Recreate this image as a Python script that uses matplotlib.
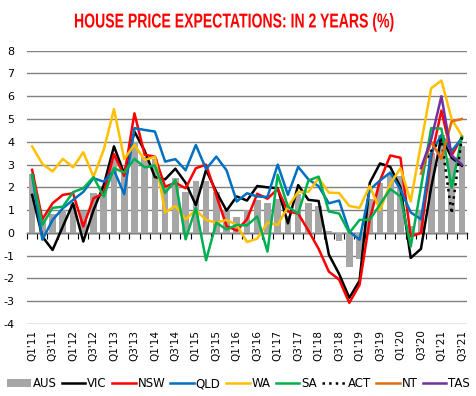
import numpy as np
import matplotlib.pyplot as plt
from matplotlib.patheffects import AbstractPathEffect
from matplotlib.transforms import Affine2D

plt.rcParams['font.family'] = ['DejaVu Sans']
plt.rcParams['axes.unicode_minus'] = False

# quarterly survey, Q1'11 .. Q3'21
quarters = [f"Q{q}'{y}" for y in range(11, 22) for q in range(1, 5)][:43]

aus = [2.6, 0.6, 0.85, 1.0, 1.25, 0.95, 1.75, 2.05, 3.3, 2.7, 4.0, 3.35, 3.25, 2.0,
       2.4, 1.8, 2.3, 2.28, 1.8, 1.0, 0.72, 1.0, 1.45, 1.33, 1.5, 0.75, 1.7, 1.3,
       1.2, 0.1, -0.37, -1.5, -1.15, 1.5, 2.2, 2.6, 2.5, 0.3, 1.0, 3.5, 4.3, 3.3, 3.82]
vic = [1.67, -0.16, -0.75, 0.28, 1.3, -0.38, 1.0, 2.1, 3.8, 2.6, 4.45, 3.6, 2.45, 2.35,
       2.82, 2.2, 1.22, 2.77, 1.8, 0.98, 1.6, 1.42, 2.06, 2.0, 1.96, 0.42, 2.1, 1.45,
       1.4, -0.95, -1.8, -2.85, -2.1, 2.2, 3.05, 2.9, 2.0, -1.1, -0.7, 2.0, 4.2, 3.3, 2.95]
nsw = [2.77, 0.6, 1.3, 1.67, 1.74, 0.28, 1.52, 1.74, 3.46, 2.5, 5.25, 3.43, 3.35, 2.03,
       2.2, 1.96, 2.84, 3.0, 1.65, 0.3, 0.1, 0.6, 1.72, 1.5, 1.93, 0.94, 0.85, 0.1,
       -0.7, -1.7, -2.05, -3.07, -2.28, 0.6, 2.3, 3.4, 3.3, -0.16, 0.0, 3.3, 5.37, 3.4, 4.2]
qld = [2.55, -0.3, 0.57, 1.08, 1.45, 1.8, 2.4, 2.25, 2.75, 1.7, 4.6, 4.52, 4.45, 3.13,
       3.24, 2.75, 3.86, 2.8, 3.35, 2.75, 1.38, 1.74, 1.6, 1.58, 3.0, 1.67, 2.9, 2.35,
       2.05, 1.3, 1.42, 0.06, -0.3, 1.9, 2.3, 2.65, 1.9, 0.9, 0.6, 3.5, 4.3, 3.6, 4.15]
wa = [3.8, 3.03, 2.7, 3.25, 2.88, 3.54, 2.47, 3.65, 5.43, 3.24, 3.87, 3.2, 3.35, 0.9,
      1.18, 0.6, 1.0, 0.57, 0.45, 0.57, 0.35, -0.4, -0.25, 0.45, 0.35, 1.15, 1.8, 1.8,
      2.4, 1.77, 1.75, 1.18, 1.1, 2.06, 1.0, 2.15, 2.84, 1.38, 3.9, 6.35, 6.69, 5.0, 4.26]
sa = [2.55, 0.35, 1.1, 1.15, 1.79, 1.96, 2.45, 1.6, 2.84, 2.65, 3.25, 2.88, 2.96, 1.75,
      2.32, -0.28, 1.1, -1.2, 0.45, 0.15, 0.35, 0.33, 0.72, -0.82, 2.55, 1.15, 0.85, 2.3,
      2.47, 0.94, 0.85, 0.0, 0.57, 0.58, 1.25, 1.93, 1.6, -0.6, 2.0, 4.6, 4.58, 1.98, 4.22]
nan = np.nan
act = [nan] * 38 + [2.8, 3.6, 4.1, 0.85, 4.2]
nt = [nan] * 38 + [2.6, 4.0, 3.25, 4.9, 5.0]
tas = [nan] * 38 + [2.84, 4.1, 6.0, 3.4, 3.0]

states = [
    ('VIC', vic, 'black', '-'),
    ('NSW', nsw, '#FF0000', '-'),
    ('QLD', qld, '#0070C0', '-'),
    ('WA', wa, '#FFC000', '-'),
    ('SA', sa, '#00B050', '-'),
    ('ACT', act, 'black', ':'),
    ('NT', nt, '#E46C0A', '-'),
    ('TAS', tas, '#7030A0', '-'),
]


class Squeeze(AbstractPathEffect):
    """draw text narrower around x0 (px) - no condensed font installed"""
    def __init__(self, sx, x0):
        super().__init__()
        self.sx = sx
        self.x0 = x0

    def draw_path(self, renderer, gc, tpath, affine, rgbFace=None):
        squeeze = Affine2D().translate(-self.x0, 0).scale(self.sx, 1).translate(self.x0, 0)
        renderer.draw_path(gc, tpath, affine + squeeze, rgbFace)


W, H = 477, 396
fig = plt.figure(figsize=(W / 100, H / 100), dpi=100)
ax = fig.add_axes([27 / W, 1 - 324 / H, 440 / W, (324 - 50.7) / H])

x = np.arange(len(quarters))
bars = ax.bar(x, aus, width=0.65, color='#A6A6A6', label='AUS', zorder=2)
handles = [bars]
for name, vals, col, ls in states:
    ln, = ax.plot(x, vals, color=col, lw=1.8, ls=ls, label=name, zorder=3)
    handles.append(ln)

ax.set_xlim(-0.5, len(quarters) - 0.5)
ax.set_ylim(-4, 8)
ax.set_yticks(range(-4, 9))
ax.yaxis.grid(True, color='#808080', lw=1)
ax.set_axisbelow(True)
for s in ax.spines.values():
    s.set_visible(False)
ax.tick_params(axis='y', length=0, pad=9, labelsize=8)
ax.set_xticks(x[::2])
ax.set_xticklabels(quarters[::2], rotation=90, fontsize=7.5)
ax.tick_params(axis='x', length=0, pad=4)

# zero line with category tick marks
zero = ax.secondary_xaxis(0, transform=ax.transData)
zero.set_xticks(np.arange(-0.5, len(quarters), 1))
zero.set_xticklabels([])
zero.tick_params(direction='out', length=4, width=0.8, color='black')
zero.spines['bottom'].set_color('black')
zero.spines['bottom'].set_linewidth(1)

fig.legend(handles=handles, loc='lower center', bbox_to_anchor=(0.5, -0.012), ncol=9,
           frameon=False, fontsize=8.5, handlelength=2.0, handletextpad=0.15,
           columnspacing=0.45)

# title: squeezed to the width of the original condensed font
title_w, title_cx = 321, 234.5
title = fig.text(title_cx / W, 1 - 22 / H, 'HOUSE PRICE EXPECTATIONS: IN 2 YEARS (%)',
                 color='#FF0000', fontsize=14.5, fontweight='bold', ha='center',
                 va='center', family=['Liberation Sans', 'DejaVu Sans'])
fig.canvas.draw()
tw = title.get_window_extent().width
title.set_path_effects([Squeeze(title_w / tw, title_cx)])

fig.savefig('out.png', dpi=100)
